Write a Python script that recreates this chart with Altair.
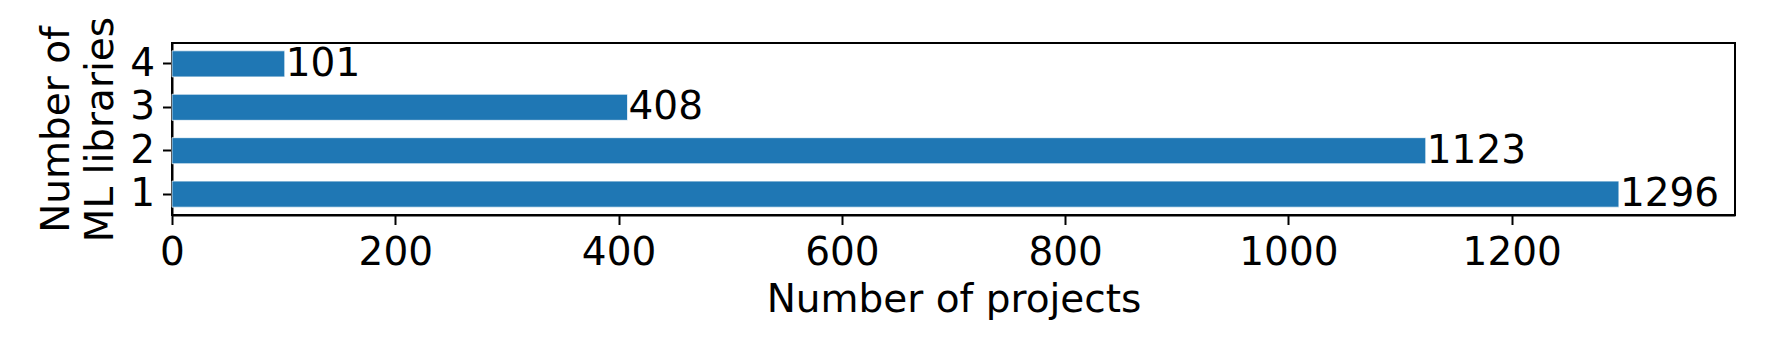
import altair as alt
import pandas as pd

libraries = [1, 2, 3, 4]
projects = [1296, 1123, 408, 101]
x_ticks = [0, 200, 400, 600, 800, 1000, 1200]

df = pd.DataFrame({"libs": libraries, "projects": projects})

FONT = "DejaVu Sans"
FS = 39

y_enc = alt.Y(
    "libs:O",
    sort="descending",
    scale=alt.Scale(paddingInner=0.4, paddingOuter=0.18),
    axis=alt.Axis(
        title=["Number of", "ML libraries"],
        titleAngle=-90,
        titleX=-104,
        titleY=86,
        titleAlign="center",
        titleBaseline="alphabetic",
        titleLineHeight=44,
        titleFontSize=FS,
        titleFont=FONT,
        titleFontWeight="normal",
        titleColor="black",
        labelAngle=0,
        labelFontSize=FS,
        labelFont=FONT,
        labelColor="black",
        labelPadding=8,
        tickSize=9.5,
        tickWidth=2,
        tickColor="black",
        domainColor="black",
        domainWidth=2,
        grid=False,
    ),
)

x_enc = alt.X(
    "projects:Q",
    scale=alt.Scale(domain=[0, 1400], nice=False, zero=True),
    axis=alt.Axis(
        title="Number of projects",
        values=x_ticks,
        format="d",
        titleX=781.5,
        titleY=96,
        titleBaseline="alphabetic",
        titleFontSize=FS,
        titleFont=FONT,
        titleFontWeight="normal",
        titleColor="black",
        labelFontSize=FS,
        labelFont=FONT,
        labelColor="black",
        labelPadding=9,
        tickSize=9.5,
        tickWidth=2,
        tickColor="black",
        domainColor="black",
        domainWidth=2,
        grid=False,
        labelFlush=False,
        labelOverlap=False,
    ),
)

bars = alt.Chart(df).mark_bar(
    color="#1f77b4", stroke="#ffffff", strokeWidth=1, strokeOpacity=0.7
).encode(x=x_enc, y=y_enc)

labels = alt.Chart(df).mark_text(
    align="left", baseline="middle", dx=1, font=FONT, fontSize=FS, color="black"
).encode(
    x=alt.X("projects:Q"),
    y=alt.Y("libs:O", sort="descending"),
    text=alt.Text("projects:Q", format="d"),
)

chart = (
    alt.layer(bars, labels)
    .properties(
        width=1563,
        height=172,
        autosize=alt.AutoSizeParams(type="none"),
        padding={"left": 164, "top": 35, "right": 34, "bottom": 130},
        background="white",
    )
    .configure_view(stroke="black", strokeWidth=2)
)

chart.save("out.html", embed_options={"renderer": "svg", "actions": False})
